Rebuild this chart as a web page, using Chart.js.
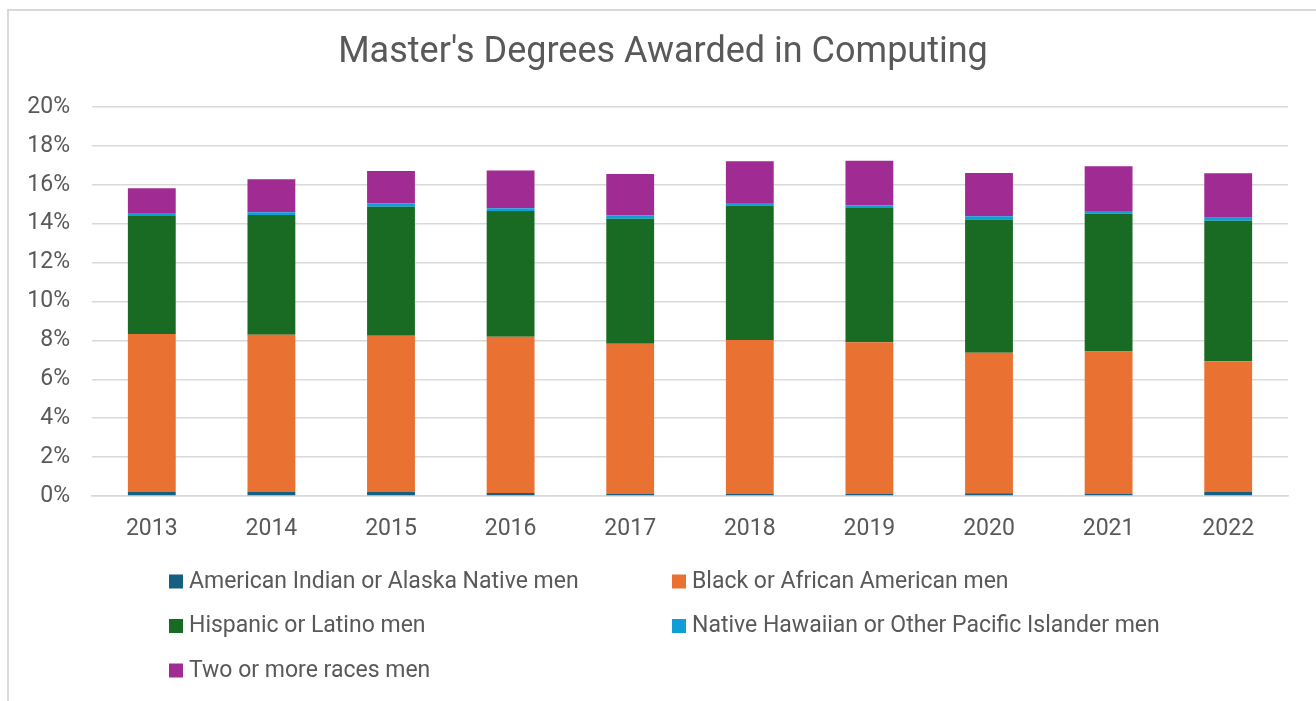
<!DOCTYPE html>
<html>
<head>
<meta charset="utf-8">
<title>Master's Degrees Awarded in Computing</title>
<script src="https://cdn.jsdelivr.net/npm/chart.js@4.4.1/dist/chart.umd.min.js"></script>
<style>
  html, body { margin: 0; padding: 0; background: #fff; overflow: hidden; }
  #frame { position: absolute; left: 7px; top: 9px; width: 1400px; height: 800px; border: 2px solid #d9d9d9; }
  #wrap { position: absolute; left: 0; top: 0; width: 1316px; height: 701px; }
</style>
</head>
<body>
<div id="frame"></div>
<div id="wrap"><canvas id="chart"></canvas></div>
<script>
// Share of master's degrees in computing, in percent
const years = ['2013', '2014', '2015', '2016', '2017', '2018', '2019', '2020', '2021', '2022'];
const aianMen     = [0.20, 0.20, 0.20, 0.15, 0.10, 0.10, 0.10, 0.14, 0.10, 0.20];
const blackMen    = [8.13, 8.09, 8.04, 8.04, 7.73, 7.92, 7.80, 7.22, 7.33, 6.73];
const hispanicMen = [6.07, 6.16, 6.63, 6.46, 6.43, 6.91, 6.91, 6.85, 7.08, 7.22];
const nhpiMen     = [0.15, 0.14, 0.18, 0.14, 0.17, 0.13, 0.14, 0.17, 0.14, 0.16];
const twoMoreMen  = [1.27, 1.69, 1.66, 1.95, 2.12, 2.15, 2.29, 2.23, 2.30, 2.28];
const yTicks = [0, 2, 4, 6, 8, 10, 12, 14, 16, 18, 20];
const chartTitle = "Master's Degrees Awarded in Computing";

Chart.defaults.font.family = 'Roboto';
Chart.defaults.color = '#595959';

// title over the whole frame, and a legend in two columns, like the Excel one
const excelDecor = {
  id: 'excelDecor',
  afterDraw(chart) {
    const { ctx, chartArea } = chart;
    ctx.save();
    ctx.fillStyle = '#595959';
    ctx.font = '36px Roboto';
    ctx.textAlign = 'center';
    ctx.textBaseline = 'middle';
    ctx.fillText(chartTitle, 663, 53);

    const cols = [169, 672];
    ctx.font = '23px Roboto';
    ctx.textAlign = 'left';
    ctx.textBaseline = 'alphabetic';
    chart.data.datasets.forEach((ds, i) => {
      const x = cols[i % 2];
      const y = chartArea.bottom + 91.5 + Math.floor(i / 2) * 44.5;
      ctx.fillStyle = ds.backgroundColor;
      ctx.fillRect(x, y - 13, 14, 14);
      ctx.fillStyle = '#595959';
      ctx.fillText(ds.label, x + 20, y);
    });
    ctx.restore();
  }
};

new Chart(document.getElementById('chart'), {
  type: 'bar',
  data: {
    labels: years,
    datasets: [
      { label: 'American Indian or Alaska Native men', data: aianMen, backgroundColor: '#156082' },
      { label: 'Black or African American men', data: blackMen, backgroundColor: '#E97132' },
      { label: 'Hispanic or Latino men', data: hispanicMen, backgroundColor: '#196B24' },
      { label: 'Native Hawaiian or Other Pacific Islander men', data: nhpiMen, backgroundColor: '#0F9ED5' },
      { label: 'Two or more races men', data: twoMoreMen, backgroundColor: '#A02B93' }
    ]
  },
  options: {
    responsive: true,
    maintainAspectRatio: false,
    animation: false,
    categoryPercentage: 1,
    barPercentage: 0.4,
    layout: { padding: { left: 20, right: 28, top: 107, bottom: 155 } },
    plugins: {
      legend: { display: false },
      tooltip: { enabled: false },
      title: { display: false }
    },
    scales: {
      x: {
        stacked: true,
        grid: { display: false },
        border: { display: true, color: '#d9d9d9', width: 1.5 },
        ticks: { font: { size: 23 }, padding: 11 },
        afterFit(scale) { scale.height = 50; }
      },
      y: {
        stacked: true,
        min: yTicks[0],
        max: yTicks[yTicks.length - 1],
        ticks: { stepSize: 2, font: { size: 23 }, padding: 22, callback: v => v + '%' },
        grid: { color: '#d9d9d9', lineWidth: 1.5, drawTicks: false },
        border: { display: false },
        afterFit(scale) { scale.width = 72; }
      }
    }
  },
  plugins: [excelDecor]
});
</script>
</body>
</html>
